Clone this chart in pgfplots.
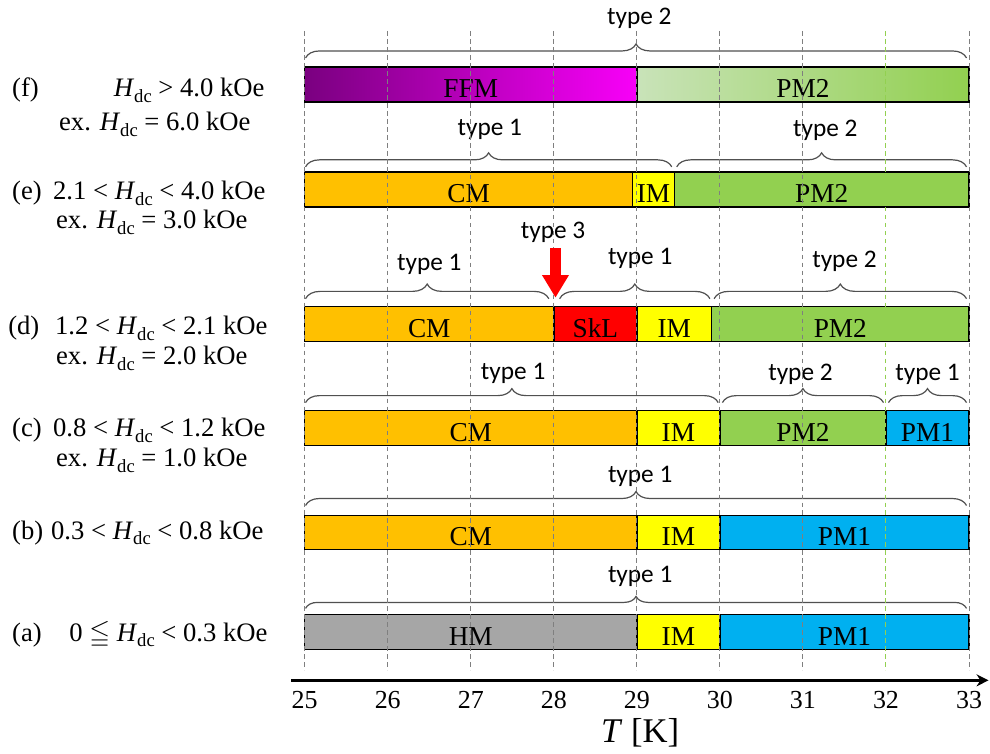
\documentclass[border=0pt]{standalone}
\usepackage{amssymb}
\usepackage{fontspec}
\setmainfont{Liberation Serif}
\newfontfamily\typefont{Carlito}
\usepackage{pgfplots}
\pgfplotsset{compat=1.18}
\usetikzlibrary{decorations.pathreplacing, arrows.meta}

\definecolor{cmorange}{HTML}{FFC000}
\definecolor{imyellow}{HTML}{FFFF00}
\definecolor{pmgreen}{HTML}{92D050}
\definecolor{pmblue}{HTML}{00B0F0}
\definecolor{hmgray}{HTML}{A6A6A6}
\definecolor{sklred}{HTML}{FF0000}
\definecolor{ffmdark}{HTML}{7A0080}
\definecolor{ffmlight}{HTML}{F800F8}
\definecolor{pmpale}{HTML}{C9E3B9}
\definecolor{gridgray}{HTML}{7F7F7F}
\definecolor{gridgreen}{HTML}{92D050}
\definecolor{bracegray}{HTML}{505050}

\newcommand\Hdc{\textit{H}\raisebox{-0.45ex}{\fontsize{14}{14}\selectfont dc}}

\tikzset{
  phase/.style={font=\fontsize{20.5}{24}\selectfont, inner sep=0pt},
  lab/.style={font=\fontsize{20}{24}\selectfont, inner sep=0pt},
  typ/.style={font=\typefont\fontsize{19}{22}\selectfont, inner sep=0pt},
  brc/.style={draw=bracegray, line width=0.9pt, decorate,
              decoration={brace, amplitude=#1}},
  brc/.default=10.5pt,
}

% one phase segment: x0, x1, top, bottom, label baseline, fill, name
\newcommand\seg[7]{%
  \addplot[draw=black, line width=1.1pt, line join=miter, #6]
    coordinates {(#1,#3) (#2,#3) (#2,#4) (#1,#4)} -- cycle;
  \path (axis cs:#1,#5) -- (axis cs:#2,#5) node[midway, anchor=base, phase] {#7};
}

\begin{document}
\begin{tikzpicture}
\begin{axis}[
  scale only axis,
  width=742.5pt, height=565.5pt,
  xmin=21.3308, xmax=33.2406,
  ymin=0, ymax=754, y dir=reverse,
  hide axis, clip=false,
]
% (f) H_dc = 6.0 kOe
\seg{25}{29}{67}{102}{97.5}{left color=ffmdark, right color=ffmlight}{FFM}
\seg{29}{33}{67}{102}{97.5}{left color=pmpale, right color=pmgreen}{PM2}
% (e) H_dc = 3.0 kOe
\seg{25}{28.95}{172}{207}{203}{fill=cmorange}{CM}
\seg{28.95}{29.45}{172}{207}{203}{fill=imyellow}{IM}
\seg{29.45}{33}{172}{207}{203}{fill=pmgreen}{PM2}
% (d) H_dc = 2.0 kOe
\seg{25}{28}{307}{342}{338}{fill=cmorange}{CM}
\seg{28}{29}{307}{342}{338}{fill=sklred}{SkL}
\seg{29}{29.9}{307}{342}{338}{fill=imyellow}{IM}
\seg{29.9}{33}{307}{342}{338}{fill=pmgreen}{PM2}
% (c) H_dc = 1.0 kOe
\seg{25}{29}{411}{446}{442}{fill=cmorange}{CM}
\seg{29}{30}{411}{446}{442}{fill=imyellow}{IM}
\seg{30}{32}{411}{446}{442}{fill=pmgreen}{PM2}
\seg{32}{33}{411}{446}{442}{fill=pmblue}{PM1}
% (b)
\seg{25}{29}{516}{550}{546}{fill=cmorange}{CM}
\seg{29}{30}{516}{550}{546}{fill=imyellow}{IM}
\seg{30}{33}{516}{550}{546}{fill=pmblue}{PM1}
% (a)
\seg{25}{29}{615}{650}{646}{fill=hmgray}{HM}
\seg{29}{30}{615}{650}{646}{fill=imyellow}{IM}
\seg{30}{33}{615}{650}{646}{fill=pmblue}{PM1}

% braces and transition types
\draw[brc] (axis cs:25.01,58) -- (axis cs:32.97,58);
\node[typ] at (axis cs:29.03,18) {type 2};

\draw[brc] (axis cs:25.01,167) -- (axis cs:29.42,167);
\draw[brc] (axis cs:29.48,167) -- (axis cs:32.97,167);
\node[typ] at (axis cs:27.23,130) {type 1};
\node[typ] at (axis cs:31.27,130) {type 2};

\draw[brc=11pt] (axis cs:25.01,299) -- (axis cs:27.94,299);
\draw[brc=11pt] (axis cs:28.07,299) -- (axis cs:29.88,299);
\draw[brc=11pt] (axis cs:29.93,299) -- (axis cs:32.97,299);
\node[typ] at (axis cs:26.50,265) {type 1};
\node[typ] at (axis cs:27.99,233) {type 3};
\node[typ] at (axis cs:29.04,259) {type 1};
\node[typ] at (axis cs:31.50,262) {type 2};

\draw[brc] (axis cs:25.01,403) -- (axis cs:29.98,403);
\draw[brc] (axis cs:30.03,403) -- (axis cs:31.97,403);
\draw[brc] (axis cs:32.03,403) -- (axis cs:32.97,403);
\node[typ] at (axis cs:27.51,374) {type 1};
\node[typ] at (axis cs:30.97,375) {type 2};
\node[typ] at (axis cs:32.50,375) {type 1};

\draw[brc] (axis cs:25.01,506) -- (axis cs:32.97,506);
\node[typ] at (axis cs:29.04,477) {type 1};

\draw[brc=9pt] (axis cs:25.01,609) -- (axis cs:32.97,609);
\node[typ] at (axis cs:29.04,577) {type 1};

% dashed temperature guides
\pgfplotsinvokeforeach{25,26,27,28,29,30,31,33}{
  \draw[gridgray, line width=0.75pt, dash pattern=on 3.5pt off 2.5pt]
    (axis cs:#1,31) -- (axis cs:#1,671);
}
\draw[gridgreen, line width=0.75pt, dash pattern=on 3.5pt off 2.5pt]
  (axis cs:32,31) -- (axis cs:32,671);

% type 3 marker
\draw[sklred, line width=8pt, -{Triangle[width=19pt,length=17pt]}]
  (axis cs:28.02,248) -- (axis cs:28.02,298);

% temperature axis
\draw[black, line width=2.2pt, -{Stealth[length=9pt,width=9pt]}]
  (axis cs:24.84,681) -- (axis cs:33.235,681);
\pgfplotsinvokeforeach{25,...,33}{
  \node[lab, anchor=base, font=\fontsize{19.5}{22}\selectfont] at (axis cs:#1,709) {#1};
}
\node[lab, anchor=base, font=\fontsize{26}{30}\selectfont] at (axis cs:29.04,743) {\textit{T} [K]};

% field ranges
\node[lab, anchor=base west] at (axis cs:21.475,97) {(f)};
\node[lab, anchor=base east] at (axis cs:24.519,97) {\Hdc{} > 4.0 kOe};
\node[lab, anchor=base] at (axis cs:23.195,131) {ex. \Hdc{} = 6.0 kOe};

\node[lab, anchor=base west] at (axis cs:21.475,200) {(e)};
\node[lab, anchor=base east] at (axis cs:24.531,200) {2.1 < \Hdc{} < 4.0 kOe};
\node[lab, anchor=base] at (axis cs:23.159,229) {ex. \Hdc{} = 3.0 kOe};

\node[lab, anchor=base west] at (axis cs:21.427,335) {(d)};
\node[lab, anchor=base east] at (axis cs:24.555,335) {1.2 < \Hdc{} < 2.1 kOe};
\node[lab, anchor=base] at (axis cs:23.159,365) {ex. \Hdc{} = 2.0 kOe};

\node[lab, anchor=base west] at (axis cs:21.475,437) {(c)};
\node[lab, anchor=base east] at (axis cs:24.531,437) {0.8 < \Hdc{} < 1.2 kOe};
\node[lab, anchor=base] at (axis cs:23.159,467) {ex. \Hdc{} = 1.0 kOe};

\node[lab, anchor=base west] at (axis cs:21.475,540) {(b)};
\node[lab, anchor=base east] at (axis cs:24.507,540) {0.3 < \Hdc{} < 0.8 kOe};

\node[lab, anchor=base west] at (axis cs:21.475,642) {(a)};
\node[lab, anchor=base east] at (axis cs:24.555,642) {0 \(\leqq\) \Hdc{} < 0.3 kOe};

\path (axis cs:21.3308,0) rectangle (axis cs:33.2406,754);
\end{axis}
\end{tikzpicture}
\end{document}
